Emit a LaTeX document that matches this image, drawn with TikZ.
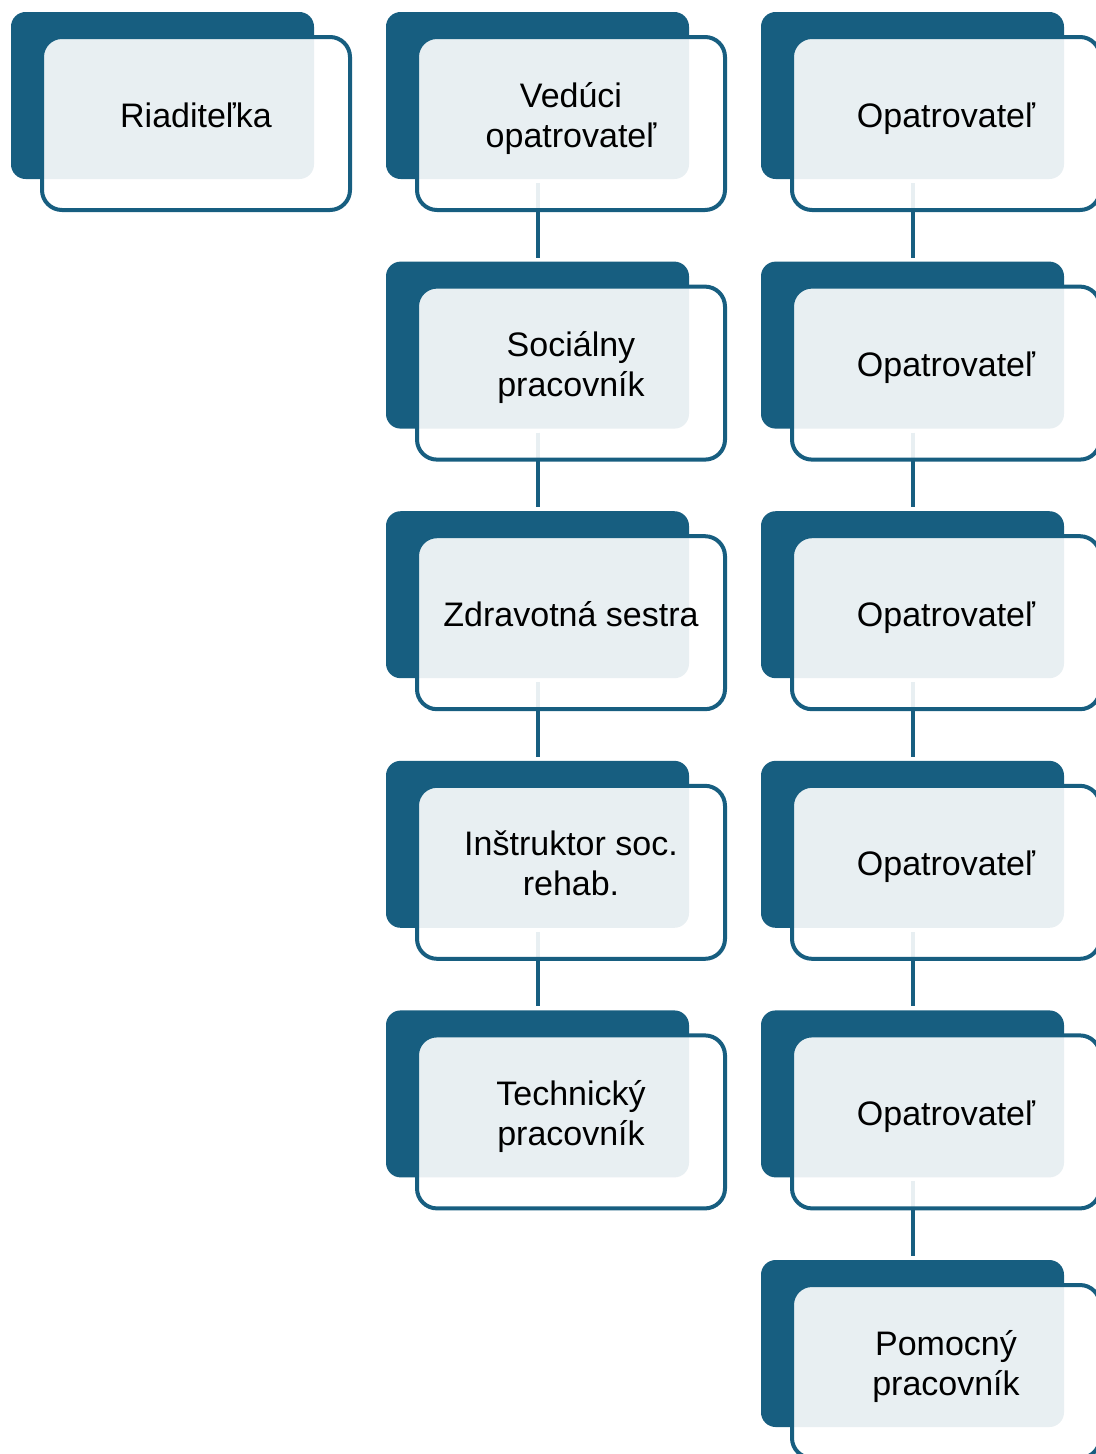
\documentclass[tikz,border=0pt]{standalone}
\usepackage{fontspec}
\setmainfont{Liberation Sans}
\definecolor{dk}{RGB}{23,94,128}
\newcommand{\txtline}[1]{#1\strut}
\begin{document}
\begin{tikzpicture}[x=0.75pt,y=-0.75pt,
  back/.style={fill=dk, rounded corners=11pt, minimum width=227.25pt, minimum height=125.25pt, inner sep=0pt, outer sep=0pt},
  front/.style={draw=dk, line width=3pt, fill=white, fill opacity=0.9, draw opacity=1, rounded corners=15pt, minimum width=231pt, minimum height=129.75pt, inner sep=0pt, outer sep=0pt},
  lbl/.style={font=\fontsize{25.5}{30}\selectfont, align=center, text=black, inner sep=0pt, yshift=1.5pt},
  conn/.style={draw=dk, line width=3pt, shorten >=3pt, shorten <=3pt}]
\useasboundingbox (0,0) rectangle (1096,1454);
\clip (0,0) rectangle (1096,1454);
% back cards
\node[back] (b11) at (162.5,95.5) {};
\foreach \r/\y in {1/95.5,2/345.1,3/594.7,4/844.3,5/1093.9}{
  \node[back] (b2\r) at (537.5,\y) {};
}
\foreach \r/\y in {1/95.5,2/345.1,3/594.7,4/844.3,5/1093.9,6/1343.5}{
  \node[back] (b3\r) at (912.5,\y) {};
}
% connectors
\foreach \a/\b in {1/2,2/3,3/4,4/5}{
  \draw[conn] (b2\a.south) -- (b2\b.north);
}
\foreach \a/\b in {1/2,2/3,3/4,4/5,5/6}{
  \draw[conn] (b3\a.south) -- (b3\b.north);
}
% front cards
\node[front] (f11) at (196,123.5) {};
\foreach \r/\y in {1/123.5,2/373.1,3/622.7,4/872.3,5/1121.9}{
  \node[front] (f2\r) at (571,\y) {};
}
\foreach \r/\y in {1/123.5,2/373.1,3/622.7,4/872.3,5/1121.9,6/1371.5}{
  \node[front] (f3\r) at (946,\y) {};
}
% labels
\node[lbl] (t11) at (196,121) {\txtline{Riaditeľka}};
\node[lbl] (t21) at (571,121) {\txtline{Vedúci}\\\txtline{opatrovateľ}};
\node[lbl] (t22) at (571,370.6) {\txtline{Sociálny}\\\txtline{pracovník}};
\node[lbl] (t23) at (571,620.2) {\txtline{Zdravotná sestra}};
\node[lbl] (t24) at (571,869.8) {\txtline{Inštruktor soc.}\\\txtline{rehab.}};
\node[lbl] (t25) at (571,1119.4) {\txtline{Technický}\\\txtline{pracovník}};
\node[lbl] (t31) at (946,121) {\txtline{Opatrovateľ}};
\node[lbl] (t32) at (946,370.6) {\txtline{Opatrovateľ}};
\node[lbl] (t33) at (946,620.2) {\txtline{Opatrovateľ}};
\node[lbl] (t34) at (946,869.8) {\txtline{Opatrovateľ}};
\node[lbl] (t35) at (946,1119.4) {\txtline{Opatrovateľ}};
\node[lbl] (t36) at (946,1369) {\txtline{Pomocný}\\\txtline{pracovník}};
\end{tikzpicture}
\end{document}
